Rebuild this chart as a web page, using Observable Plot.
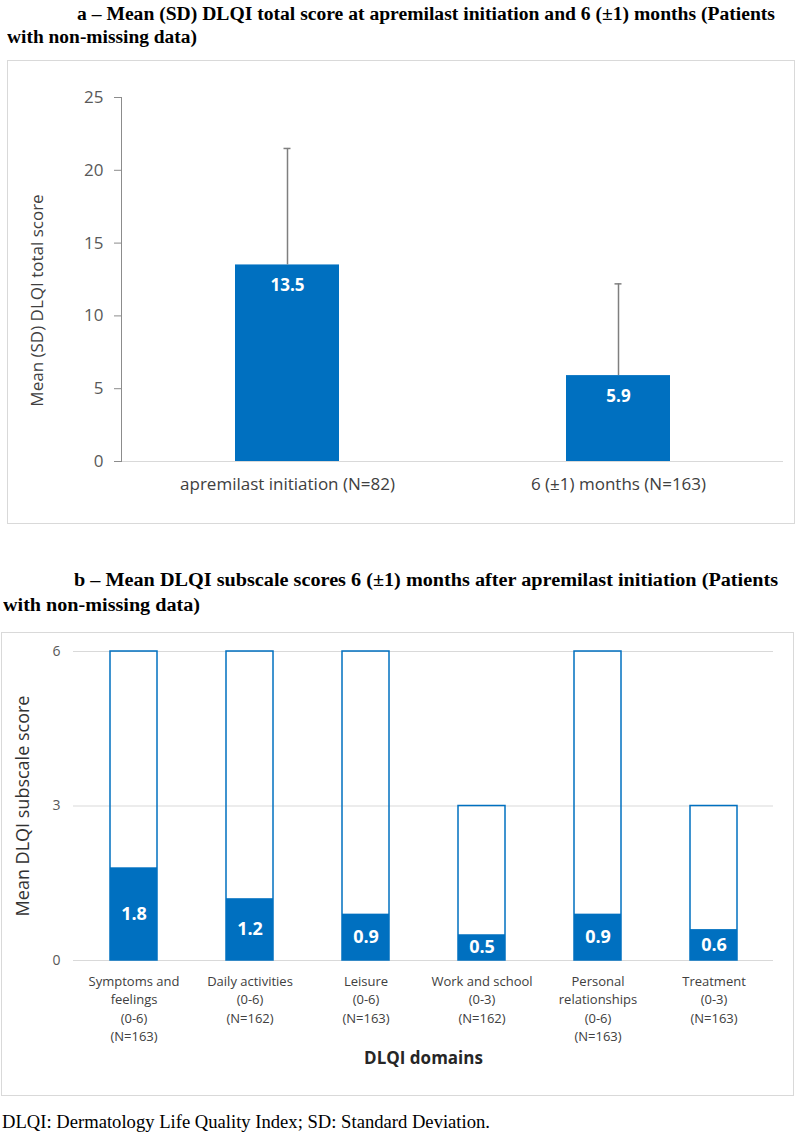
<!DOCTYPE html>
<html><head><meta charset="utf-8">
<script src="https://cdn.jsdelivr.net/npm/d3@7"></script>
<script src="https://cdn.jsdelivr.net/npm/@observablehq/plot@0.6"></script>
<style>
body{margin:0;background:#fff;}
#page{position:relative;width:797px;height:1135px;overflow:hidden;background:#fff;}
.t{position:absolute;white-space:nowrap;font-family:"Liberation Serif","Times New Roman",serif;font-size:18px;line-height:18px;color:#000;transform-origin:0 0;}
.b{font-weight:bold;}
.box{position:absolute;border:1px solid #d9d9d9;box-sizing:border-box;}
.chart{position:absolute;}
</style></head>
<body><div id="page">
<div class="t b" data-w="698" style="left:77px;top:5px">a – Mean (SD) DLQI total score at apremilast initiation and 6 (±1) months (Patients</div>
<div class="t b" data-w="190" style="left:7px;top:28px">with non-missing data)</div>
<div class="box" style="left:7px;top:60px;width:788px;height:464px"></div>
<div class="chart" id="chartA" style="left:7px;top:60px"></div>
<div class="t b" data-w="704" style="left:74px;top:571px">b – Mean DLQI subscale scores 6 (±1) months after apremilast initiation (Patients</div>
<div class="t b" data-w="197" style="left:3px;top:596px">with non-missing data)</div>
<div class="box" style="left:1px;top:632px;width:793px;height:464px"></div>
<div class="chart" id="chartB" style="left:1px;top:632px"></div>
<div class="t" data-w="488" style="left:2px;top:1112px;font-size:19px;line-height:19px">DLQI: Dermatology Life Quality Index; SD: Standard Deviation.</div>
</div>
<script>
// ---- Data: panel a ----
const catsA = ["apremilast initiation (N=82)", "6 (±1) months (N=163)"];
const meanA = [13.5, 5.9];
const sdA = [8.0, 6.3];
const ticksA = [0, 5, 10, 15, 20, 25];
const yLabelA = "Mean (SD) DLQI total score";

// ---- Data: panel b ----
const catsB = ["Symptoms and feelings", "Daily activities", "Leisure", "Work and school", "Personal relationships", "Treatment"];
const tickLabelsB = ["Symptoms and\nfeelings\n(0-6)\n(N=163)", "Daily activities\n(0-6)\n(N=162)", "Leisure\n(0-6)\n(N=163)", "Work and school\n(0-3)\n(N=162)", "Personal\nrelationships\n(0-6)\n(N=163)", "Treatment\n(0-3)\n(N=163)"];
const maxB = [6, 6, 6, 3, 6, 3];
const meanB = [1.8, 1.2, 0.9, 0.5, 0.9, 0.6];
const ticksB = [0, 3, 6];
const yLabelB = "Mean DLQI subscale score";
const xLabelB = "DLQI domains";

const BLUE = "#0070c0";
const FONT = "'Open Sans', sans-serif";

const dataA = catsA.map((c, i) => ({cat: c, mean: meanA[i], top: meanA[i] + sdA[i]}));
const chartA = Plot.plot({
  width: 787, height: 463,
  marginLeft: 114, marginRight: 11, marginTop: 37, marginBottom: 62,
  style: {fontFamily: FONT, background: "transparent"},
  x: {domain: catsA, paddingInner: 0.686, paddingOuter: 0.343, align: 0.5},
  y: {domain: [0, 25]},
  marks: [
    Plot.ruleY([0], {stroke: "#d9d9d9", strokeWidth: 1.2}),
    Plot.frame({anchor: "left", stroke: "#8c8c8c"}),
    Plot.axisY({ticks: ticksA, tickSize: 7, tickPadding: 11, stroke: "#8c8c8c", fill: "#595959", fontSize: 17, label: null}),
    Plot.axisX({tickSize: 0, tickPadding: 16, fill: "#404040", fontSize: 17, label: null}),
    Plot.barY(dataA, {x: "cat", y: "mean", fill: BLUE}),
    Plot.ruleX(dataA, {x: "cat", y1: "mean", y2: "top", stroke: "#7f7f7f", strokeWidth: 1.5}),
    Plot.tickY(dataA, {x: "cat", y: "top", stroke: "#7f7f7f", strokeWidth: 1.5, insetLeft: 48.5, insetRight: 48.5}),
    Plot.text(dataA, {x: "cat", y: "mean", text: d => d.mean.toFixed(1), dy: 21, fill: "white", fontWeight: "bold", fontSize: 17}),
    Plot.text([yLabelA], {frameAnchor: "left", textAnchor: "middle", rotate: -90, dx: -84, dy: 21, fontSize: 17, fill: "#404040"})
  ]
});
document.getElementById("chartA").append(chartA);

const dataB = catsB.map((c, i) => ({cat: c, max: maxB[i], mean: meanB[i]}));
const chartB = Plot.plot({
  width: 792, height: 463,
  marginLeft: 72, marginRight: 20, marginTop: 19, marginBottom: 135,
  style: {fontFamily: FONT, background: "transparent"},
  x: {domain: catsB, paddingInner: 0.597, paddingOuter: 0.2985, align: 0.5},
  y: {domain: [0, 6]},
  marks: [
    Plot.ruleY(ticksB, {stroke: "#d9d9d9", strokeWidth: 1.2}),
    Plot.axisY({ticks: ticksB, tickFormat: d => String(d), tickSize: 0, tickPadding: 13, fill: "#595959", fontSize: 14, label: null}),
    Plot.axisX({tickSize: 0, tickPadding: 12, fill: "#404040", fontSize: 13, lineHeight: 1.42, label: null,
      tickFormat: d => tickLabelsB[catsB.indexOf(d)]}),
    Plot.barY(dataB, {x: "cat", y: "max", fill: "none", stroke: BLUE, strokeWidth: 1.5}),
    Plot.barY(dataB, {x: "cat", y: "mean", fill: BLUE}),
    Plot.text(dataB, {x: "cat", y: d => d.mean / 2, text: d => d.mean.toFixed(1), fill: "white", fontWeight: "bold", fontSize: 18}),
    Plot.text([yLabelB], {frameAnchor: "left", textAnchor: "middle", rotate: -90, dx: -50, fontSize: 18, fill: "#333"}),
    Plot.text([xLabelB], {frameAnchor: "bottom", dy: 103, fontSize: 17, fontWeight: "bold", fill: "#262626"})
  ]
});
document.getElementById("chartB").append(chartB);

// fit serif headings to the measured widths of the reference
document.querySelectorAll(".t[data-w]").forEach(el => {
  const w = el.getBoundingClientRect().width;
  const target = +el.dataset.w;
  el.style.transform = `scaleX(${target / w})`;
});
</script>
</body></html>
